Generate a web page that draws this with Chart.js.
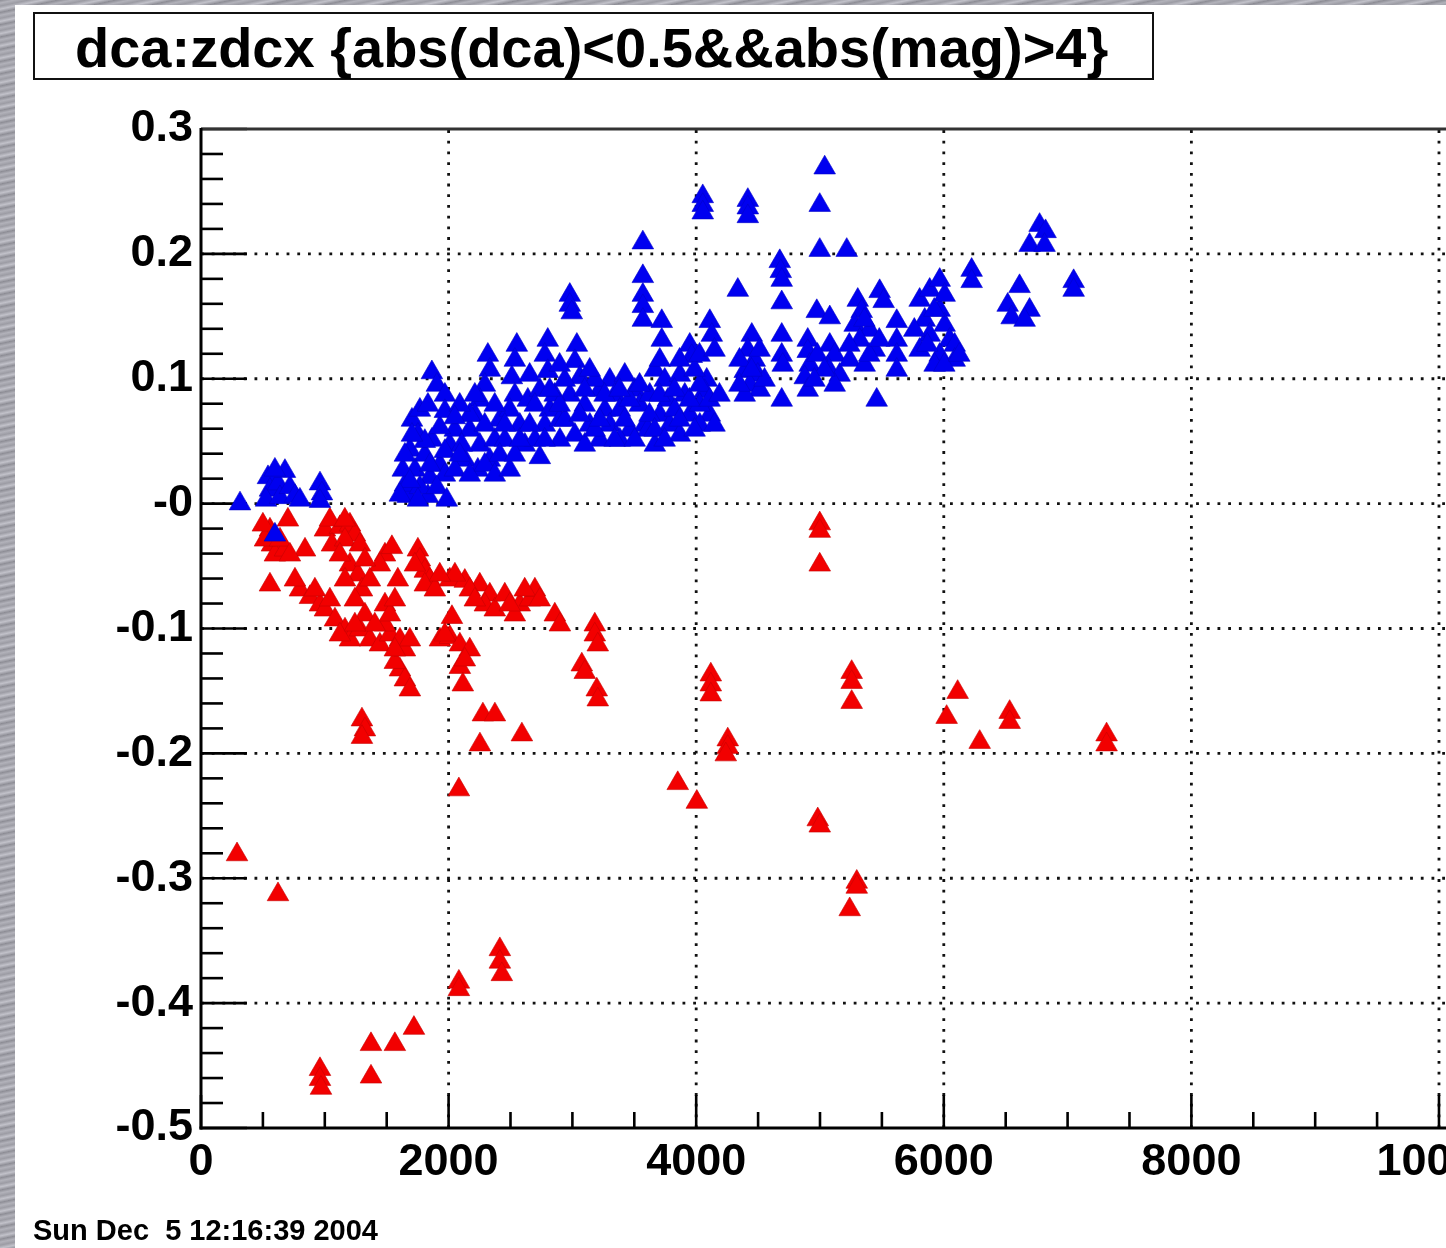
<!DOCTYPE html>
<html>
<head>
<meta charset="utf-8">
<script src="https://cdn.jsdelivr.net/npm/chart.js@4.4.1/dist/chart.umd.min.js"></script>
<style>
html,body{margin:0;padding:0;width:1446px;height:1248px;overflow:hidden;}
body{position:relative;background:repeating-linear-gradient(168deg,#8c8c94 0px,#b2b2ba 3px,#9c9ca4 6px,#c2c2ca 9px,#93939b 12px);}
#sheet{position:absolute;left:15px;top:5px;width:1431px;height:1243px;background:#fff;overflow:hidden;}
#c{position:absolute;left:0;top:0;}
#titlebox{position:absolute;left:18px;top:7px;width:1121px;height:68px;box-sizing:border-box;border:2.5px solid #111;background:#fff;}
#titletext{position:absolute;left:60px;top:14.6px;font:bold 56px/56px "Liberation Sans",Arial,sans-serif;color:#000;white-space:pre;}
#footer{position:absolute;left:18px;top:1210.5px;font:bold 29px/29px "Liberation Sans",Arial,sans-serif;color:#000;white-space:pre;}
</style>
</head>
<body>
<div id="sheet">
<canvas id="c" width="1560" height="1243"></canvas>
<div id="titlebox"></div>
<div id="titletext">dca:zdcx {abs(dca)&lt;0.5&amp;&amp;abs(mag)&gt;4}</div>
<div id="footer">Sun Dec  5 12:16:39 2004</div>
</div>
<script>
// ---- axis ticks ----
const xTickValues = [0, 2000, 4000, 6000, 8000, 10000];
const xTickLabels = ['0', '2000', '4000', '6000', '8000', '10000'];
const yTickValues = [-0.5, -0.4, -0.3, -0.2, -0.1, 0, 0.1, 0.2, 0.3];
const yTickLabels = ['-0.5', '-0.4', '-0.3', '-0.2', '-0.1', '-0', '0.1', '0.2', '0.3'];

// ---- series: blue (dca:zdcx, upper branch) ----
const blueX = [315,541,557,525,622,638,718,759,799,678,597,961,977,961,597,
1671,1833,1704,1752,1687,1808,1865,1930,1728,1849,1970,1768,1865,1905,1970,1647,1768,2010,2050,
2317,2333,2293,2252,2212,2171,2252,2131,2236,2333,2373,2413,2107,
2551,2535,2511,2535,2494,2575,2454,2616,2640,
2801,2777,2801,2737,2697,2818,2777,2697,2737,2899,
3036,3020,3060,2979,3100,2939,3141,3020,2979,2979,2995,
3302,3423,3343,3504,3262,3383,3544,3302,3464,3222,3585,3222,
3569,3569,3569,3569,3569,3722,3722,
3666,3746,3625,3771,3706,3609,3787,3868,3908,3827,3948,
3948,3964,4110,4126,4085,4069,4110,4029,
4053,4053,4053,4417,4417,4417,5038,4998,4998,5216,4675,4683,4691,4336,4691,4974,5079,
4449,4417,4473,4392,4497,4433,4513,4392,
4691,4691,4699,4691,4901,4901,4917,4877,4901,5079,5119,5062,5159,5119,5305,5337,5280,5401,5321,5442,5240,5361,5458,5482,5514,5620,5620,5620,5620,
5805,5886,5967,5846,6007,5886,6047,5805,5967,6088,5926,6088,5967,6007,
6225,6225,6516,6548,6693,6653,6612,6774,6822,6693,6814,7049,7049,
2899,3383,3666,3868,4029,3181,3706,
1630,1687,1752,1905,1985,1808,1929,1970,1647,1849,1970,1704,1833,1606,
2050,2090,2171,2292,2373,2413,2494,2535,2171,2292,2373,2454,2575,2090,2212,2050,
2655,2776,2857,2897,2938,3059,3100,3180,3220,3260,3341,3422,3462,3503,3543,3623,3664,3704,3745,3825,3866,3946,3987,4027,4108,4148,3987,3381,3099,2817,2655,2897,3140,
4027,4148,3866,4188,
4350,4552,4350,4512,4447,
5762,5867,6004,6125,5923,
5358,5237,5398,5479,
4979,5036,4955];
const blueY = [0.000,0.021,0.011,0.003,0.016,0.005,0.013,0.006,0.003,0.026,0.027,0.016,0.008,0.002,-0.025,
0.006,0.006,0.067,0.055,0.043,0.039,0.051,0.031,0.027,0.021,0.023,0.075,0.105,0.095,0.087,0.015,0.013,0.047,0.059,
0.119,0.107,0.095,0.083,0.071,0.059,0.047,0.035,0.027,0.035,0.051,0.067,0.047,
0.127,0.115,0.101,0.087,0.075,0.063,0.051,0.047,0.083,
0.131,0.119,0.106,0.091,0.079,0.075,0.063,0.051,0.037,0.067,
0.127,0.114,0.101,0.087,0.079,0.067,0.063,0.055,0.167,0.159,0.153,
0.099,0.103,0.087,0.091,0.075,0.075,0.079,0.063,0.059,0.051,0.063,0.091,
0.209,0.182,0.167,0.158,0.147,0.146,0.131,
0.107,0.099,0.087,0.083,0.071,0.059,0.063,0.103,0.087,0.075,0.071,
0.127,0.118,0.146,0.135,0.099,0.090,0.071,0.079,
0.246,0.239,0.233,0.243,0.237,0.230,0.269,0.239,0.203,0.203,0.194,0.186,0.179,0.171,0.161,0.154,0.149,
0.135,0.123,0.115,0.106,0.103,0.095,0.091,0.087,
0.135,0.119,0.111,0.083,0.131,0.122,0.111,0.101,0.091,0.127,0.119,0.109,0.103,0.095,0.163,0.154,0.143,0.139,0.131,0.123,0.115,0.111,0.083,0.170,0.162,0.146,0.131,0.119,0.107,
0.163,0.171,0.155,0.147,0.143,0.135,0.131,0.123,0.119,0.127,0.111,0.115,0.179,0.167,
0.187,0.178,0.159,0.149,0.155,0.147,0.174,0.223,0.218,0.207,0.207,0.178,0.171,
0.051,0.051,0.047,0.055,0.063,0.099,0.115,
0.027,0.018,0.003,0.013,0.003,0.050,0.061,0.042,0.039,0.031,0.074,0.055,0.079,0.007,
0.027,0.039,0.023,0.031,0.023,0.039,0.027,0.039,0.071,0.063,0.079,0.063,0.051,0.079,0.087,0.069,
0.063,0.051,0.087,0.079,0.099,0.071,0.047,0.059,0.067,0.087,0.051,0.067,0.083,0.051,0.095,0.071,0.059,0.087,0.051,0.091,0.067,0.083,0.059,0.095,0.083,0.063,0.107,0.091,0.091,0.091,0.103,0.111,0.107,
0.119,0.123,0.115,0.087,
0.115,0.099,0.095,0.123,0.107,
0.139,0.127,0.111,0.119,0.155,
0.147,0.127,0.119,0.131,
0.119,0.107,0.099];

// ---- series: red (lower branch) ----
const redX = [702,557,573,597,517,678,557,840,1001,1122,1203,1243,1058,1163,1203,1268,1300,1163,1486,1542,1445,1752,1768,1808,1849,1728,2010,2131,2051,2252,2333,2293,2373,2575,2656,2535,2697,2858,2899,3181,3181,3205,
799,880,961,1001,1082,1163,1203,1122,1284,1365,1445,1526,1607,1486,1486,1526,1607,1647,1687,1566,1930,2010,2091,2027,2091,2115,2277,2374,2253,2592,1300,1324,1300,3076,3100,3197,3205,
2083,291,622,2083,2083,2414,2414,2430,961,961,969,1373,1566,1720,1373,
4998,4998,4998,4118,4118,4118,5256,5256,5256,4255,4255,4239,3851,4005,4982,4998,5297,5297,5240,6112,6023,6290,6532,6532,7315,7315,
500,638,718,759,920,1041,1041,1162,1283,1122,1324,1364,1243,1324,1404,1243,1566,1590,1647,1687,1566,1808,1889,1929,2171,2212,2454,2615,2736,2494,1970,2171,2131];
const redY = [-0.013,-0.021,-0.033,-0.041,-0.029,-0.037,-0.065,-0.037,-0.021,-0.019,-0.017,-0.025,-0.033,-0.029,-0.049,-0.057,-0.069,-0.061,-0.041,-0.035,-0.049,-0.037,-0.045,-0.054,-0.061,-0.049,-0.061,-0.062,-0.057,-0.065,-0.073,-0.081,-0.085,-0.081,-0.077,-0.089,-0.069,-0.089,-0.097,-0.097,-0.105,-0.113,
-0.069,-0.075,-0.081,-0.085,-0.093,-0.101,-0.109,-0.105,-0.101,-0.109,-0.113,-0.105,-0.109,-0.097,-0.081,-0.089,-0.133,-0.141,-0.149,-0.127,-0.109,-0.107,-0.113,-0.091,-0.131,-0.145,-0.169,-0.169,-0.193,-0.185,-0.173,-0.181,-0.187,-0.129,-0.135,-0.149,-0.157,
-0.229,-0.281,-0.313,-0.383,-0.389,-0.357,-0.367,-0.377,-0.453,-0.461,-0.468,-0.433,-0.433,-0.420,-0.459,
-0.016,-0.022,-0.049,-0.137,-0.145,-0.153,-0.135,-0.143,-0.159,-0.189,-0.195,-0.201,-0.224,-0.239,-0.253,-0.258,-0.303,-0.307,-0.325,-0.151,-0.171,-0.191,-0.167,-0.175,-0.185,-0.193,
-0.017,-0.029,-0.041,-0.061,-0.069,-0.077,-0.013,-0.013,-0.033,-0.041,-0.045,-0.061,-0.077,-0.089,-0.097,-0.097,-0.077,-0.061,-0.117,-0.109,-0.117,-0.065,-0.069,-0.057,-0.069,-0.077,-0.073,-0.069,-0.077,-0.081,-0.105,-0.117,-0.125];

function pts(xs, ys){ const n=Math.min(xs.length, ys.length); const out=[]; for(let i=0;i<n;i++) out.push({x:xs[i], y:ys[i]}); return out; }

const FONT = '"Liberation Sans", Arial, sans-serif';

// ROOT-style frame: dotted grid, inward ticks, axis lines
const rootFrame = {
  id: 'rootFrame',
  beforeDatasetsDraw(chart){
    const {ctx, chartArea:a, scales:{x, y}} = chart;
    ctx.save();
    const line=(x1,y1,x2,y2)=>{ctx.beginPath();ctx.moveTo(x1,y1);ctx.lineTo(x2,y2);ctx.stroke();};
    // dotted grid
    ctx.strokeStyle = '#111'; ctx.lineWidth = 2.8; ctx.setLineDash([2.8, 7.9]);
    xTickValues.forEach(v=>{ if(v<=x.min||v>=x.max) return; const p=x.getPixelForValue(v); line(p,a.bottom,p,a.top); });
    yTickValues.forEach(v=>{ if(v<=y.min+1e-9||v>=y.max-1e-9) return; const p=y.getPixelForValue(v); line(a.left,p,a.right,p); });
    ctx.setLineDash([]);
    // ticks
    ctx.strokeStyle = '#000'; ctx.lineWidth = 2.6;
    for(let k=0;k*500<=x.max;k++){
      const v=k*500, p=x.getPixelForValue(v);
      const len = (v%2000===0) ? 33 : 16;
      line(p,a.bottom,p,a.bottom-len);
    }
    for(let k=0;k<=40;k++){
      const v=-0.5+k*0.02, p=y.getPixelForValue(v);
      const len = (k%5===0) ? 46 : 22;
      line(a.left,p,a.left+len,p);
    }
    // frame
    ctx.lineWidth = 3; ctx.strokeStyle = '#333';
    line(a.left,a.top,a.right+10,a.top);
    ctx.strokeStyle = '#000';
    line(a.left,a.top-1,a.left,a.bottom+1.5);
    line(a.left-1.5,a.bottom,a.right+10,a.bottom);
    ctx.restore();
  }
};

const tickFont = {family: FONT, size: 45, weight: 'bold'};

new Chart(document.getElementById('c'), {
  type: 'scatter',
  data: {
    datasets: [
      {label:'dca>0', data: pts(blueX, blueY), pointStyle:'triangle', pointRadius:12.5, pointHoverRadius:12.5,
       backgroundColor:'#0000f0', borderColor:'#0000c8', pointBorderWidth:0.6, order:0},
      {label:'dca<0', data: pts(redX, redY), pointStyle:'triangle', pointRadius:12.5, pointHoverRadius:12.5,
       backgroundColor:'#f20000', borderColor:'#c80000', pointBorderWidth:0.6, order:1}
    ]
  },
  options: {
    responsive:false, animation:false, devicePixelRatio:1,
    events: [],
    layout: {padding:{top:124, right:86.5, bottom:0, left:0}},
    plugins: {legend:{display:false}, tooltip:{enabled:false}, title:{display:false}},
    scales: {
      x: {type:'linear', min:0, max:10400,
          grid:{display:false, drawTicks:false}, border:{display:false},
          afterBuildTicks: s=>{ s.ticks = xTickValues.map(v=>({value:v})); },
          afterFit: s=>{ s.height = 120; },
          ticks:{autoSkip:false, maxRotation:0, minRotation:0, padding:8, color:'#000', font:tickFont,
                 callback:(v,i)=>xTickLabels[i]}},
      y: {type:'linear', min:-0.5, max:0.3,
          grid:{display:false, drawTicks:false}, border:{display:false},
          afterBuildTicks: s=>{ s.ticks = yTickValues.map(v=>({value:v})); },
          afterFit: s=>{ s.width = 186; },
          ticks:{autoSkip:false, padding:8, color:'#000', font:tickFont,
                 callback:(v,i)=>yTickLabels[i]}}
    }
  },
  plugins: [rootFrame]
});
</script>
</body>
</html>
